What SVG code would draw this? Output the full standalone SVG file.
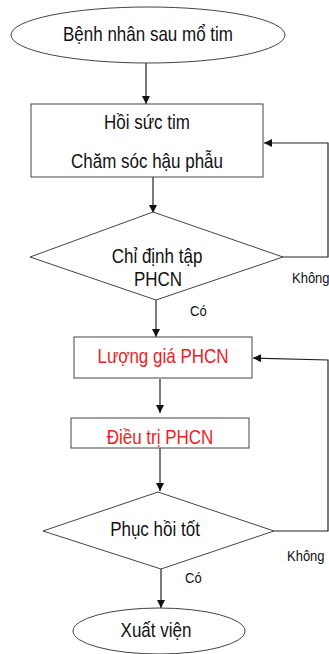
<svg xmlns="http://www.w3.org/2000/svg" width="329" height="654" viewBox="0 0 329 654">
  <style>
    .shape { fill: #ffffff; stroke: #444444; stroke-width: 1; }
    .line { fill: none; stroke: #222222; stroke-width: 1.2; }
    .t { font-family: "Liberation Sans", Arial, sans-serif; font-size: 17px; fill: #111111; text-anchor: middle; }
    .red { fill: #ee1c25; }
    .lbl { font-family: "Liberation Sans", Arial, sans-serif; font-size: 13px; fill: #111111; }
  </style>
  <defs>
    <marker id="arrow" viewBox="0 0 10 10" refX="10" refY="5" markerWidth="8" markerHeight="8" markerUnits="userSpaceOnUse" orient="auto">
      <path d="M0,0 L10,5 L0,10 Z" fill="#111111"/>
    </marker>
  </defs>
  <rect width="329" height="654" fill="#ffffff"/>

  <!-- connectors; text is stretched vertically around its baseline -->
  <g id="connectors">
    <line class="line" x1="146" y1="63" x2="146" y2="104" marker-end="url(#arrow)"/>
    <line class="line" x1="153" y1="177" x2="153" y2="213" marker-end="url(#arrow)"/>
    <polyline class="line" points="283,257 328,257 328,143 264,143" marker-end="url(#arrow)"/>
    <line class="line" x1="156" y1="300" x2="156" y2="337" marker-end="url(#arrow)"/>
    <polyline class="line" points="274,531 328,531 328,360 253,358" marker-end="url(#arrow)"/>
    <line class="line" x1="160" y1="379" x2="160" y2="413" marker-end="url(#arrow)"/>
    <line class="line" x1="160" y1="448" x2="160" y2="491" marker-end="url(#arrow)"/>
    <line class="line" x1="161" y1="569" x2="161" y2="608" marker-end="url(#arrow)"/>
    <text class="lbl" transform="translate(292,283) scale(1,1.18)">Không</text>
    <text class="lbl" transform="translate(190,316) scale(1,1.18)">Có</text>
    <text class="lbl" transform="translate(287,561) scale(1,1.18)">Không</text>
    <text class="lbl" transform="translate(185,583) scale(1,1.18)">Có</text>
  </g>

  <g id="start">
    <ellipse class="shape" cx="148" cy="35" rx="137" ry="28"/>
    <text class="t" transform="translate(148,41) scale(1,1.18)">Bệnh nhân sau mổ tim</text>
  </g>

  <g id="icu">
    <rect class="shape" x="31" y="104" width="232" height="73"/>
    <text class="t" transform="translate(147,129) scale(1,1.18)">Hồi sức tim</text>
    <text class="t" transform="translate(147,168) scale(1,1.18)">Chăm sóc hậu phẫu</text>
  </g>

  <g id="indication">
    <polygon class="shape" points="153,212 283,257 156,300 30,257"/>
    <text class="t" transform="translate(157,263) scale(1,1.18)">Chỉ định tập</text>
    <text class="t" transform="translate(158,286) scale(1,1.18)">PHCN</text>
  </g>

  <g id="assessment">
    <rect class="shape" x="74" y="337" width="178" height="41"/>
    <text class="t red" transform="translate(163,363) scale(1,1.18)">Lượng giá PHCN</text>
  </g>

  <g id="treatment">
    <rect class="shape" x="71" y="418" width="178" height="30"/>
    <text class="t red" transform="translate(160,444) scale(1,1.18)">Điều trị PHCN</text>
  </g>

  <g id="recovery">
    <polygon class="shape" points="158,492 274,531 161,569 43,531"/>
    <text class="t" transform="translate(155,536) scale(1,1.18)">Phục hồi tốt</text>
  </g>

  <g id="discharge">
    <ellipse class="shape" cx="159" cy="631" rx="86" ry="23"/>
    <text class="t" transform="translate(156,637) scale(1,1.18)">Xuất viện</text>
  </g>
</svg>
